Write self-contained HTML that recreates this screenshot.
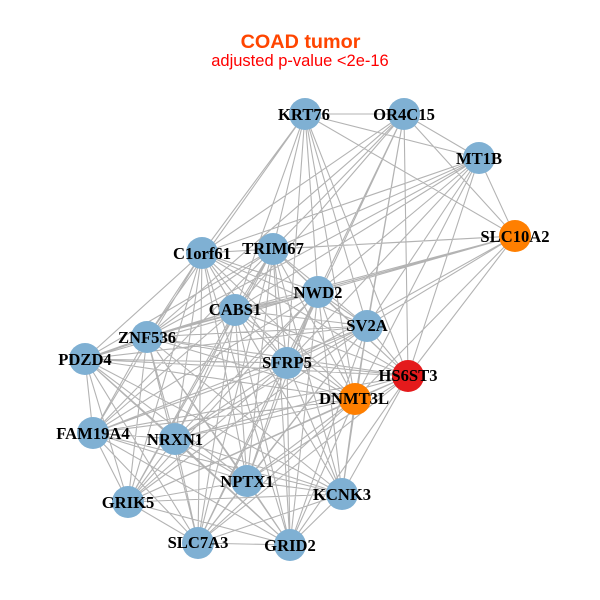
<!DOCTYPE html>
<html><head><meta charset="utf-8"><style>html,body{margin:0;padding:0;background:#fff}svg{display:block}
.n{font:bold 16.6px "Liberation Serif",serif;text-anchor:middle;fill:#000}</style></head><body>
<svg width="600" height="600" viewBox="0 0 600 600" xmlns="http://www.w3.org/2000/svg">
<rect width="600" height="600" fill="#fff"/>
<path fill="none" stroke="#b3b3b3" stroke-width="1.1" d="
M305 114L404 114M305 114L479 158M305 114L515 236M305 114L202 253M305 114L147 337M305 114L273 249M305 114L235 310M305 114L318 292M305 114L287 363M305 114L367 326M305 114L408 376M305 114L355 399
M404 114L479 158M404 114L515 236M404 114L202 253M404 114L273 249M404 114L235 310M404 114L318 292M404 114L287 363M404 114L367 326M404 114L408 376M404 114L147 337M404 114L355 399
M479 158L515 236M479 158L273 249M479 158L202 253M479 158L235 310M479 158L318 292M479 158L367 326M479 158L287 363M479 158L408 376M479 158L355 399M479 158L147 337
M515 236L273 249M515 236L202 253M515 236L318 292M515 236L235 310M515 236L367 326M515 236L287 363M515 236L408 376M515 236L355 399M515 236L147 337
M202 253L273 249M202 253L318 292M202 253L235 310M202 253L367 326M202 253L147 337M202 253L85 359M202 253L287 363M202 253L408 376M202 253L355 399M202 253L93 433M202 253L175 439M202 253L247 481M202 253L342 494M202 253L128 502M202 253L198 543M202 253L290 545
M273 249L318 292M273 249L235 310M273 249L367 326M273 249L147 337M273 249L85 359M273 249L287 363M273 249L408 376M273 249L355 399M273 249L93 433M273 249L175 439M273 249L247 481M273 249L342 494M273 249L128 502M273 249L198 543M273 249L290 545
M318 292L235 310M318 292L367 326M318 292L147 337M318 292L85 359M318 292L287 363M318 292L408 376M318 292L355 399M318 292L93 433M318 292L175 439M318 292L247 481M318 292L342 494M318 292L128 502M318 292L198 543M318 292L290 545
M235 310L367 326M235 310L147 337M235 310L85 359M235 310L287 363M235 310L408 376M235 310L355 399M235 310L93 433M235 310L175 439M235 310L247 481M235 310L342 494M235 310L128 502M235 310L198 543M235 310L290 545
M367 326L147 337M367 326L85 359M367 326L287 363M367 326L408 376M367 326L355 399M367 326L93 433M367 326L175 439M367 326L247 481M367 326L342 494M367 326L128 502M367 326L198 543M367 326L290 545
M147 337L85 359M147 337L287 363M147 337L408 376M147 337L355 399M147 337L93 433M147 337L175 439M147 337L247 481M147 337L342 494M147 337L128 502M147 337L198 543M147 337L290 545
M85 359L287 363M85 359L408 376M85 359L355 399M85 359L93 433M85 359L175 439M85 359L247 481M85 359L342 494M85 359L128 502M85 359L198 543M85 359L290 545
M287 363L408 376M287 363L355 399M287 363L93 433M287 363L175 439M287 363L247 481M287 363L342 494M287 363L128 502M287 363L198 543M287 363L290 545
M408 376L355 399M408 376L93 433M408 376L175 439M408 376L247 481M408 376L342 494M408 376L128 502M408 376L198 543M408 376L290 545
M355 399L93 433M355 399L175 439M355 399L247 481M355 399L342 494M355 399L128 502M355 399L198 543M355 399L290 545
M93 433L175 439M93 433L247 481M93 433L342 494M93 433L128 502M93 433L198 543M93 433L290 545
M175 439L247 481M175 439L342 494M175 439L128 502M175 439L198 543M175 439L290 545
M247 481L342 494M247 481L128 502M247 481L198 543M247 481L290 545
M342 494L128 502M342 494L198 543M342 494L290 545
M128 502L198 543M128 502L290 545
M198 543L290 545"/>
<g fill="#7fb0d3">
<circle cx="305" cy="114" r="16"/><circle cx="404" cy="114" r="16"/><circle cx="479" cy="158" r="16"/>
<circle cx="202" cy="253" r="16"/><circle cx="273" cy="249" r="16"/><circle cx="318" cy="292" r="16"/>
<circle cx="235" cy="310" r="16"/><circle cx="367" cy="326" r="16"/><circle cx="147" cy="337" r="16"/>
<circle cx="85" cy="359" r="16"/><circle cx="287" cy="363" r="16"/><circle cx="93" cy="433" r="16"/>
<circle cx="175" cy="439" r="16"/><circle cx="247" cy="481" r="16"/><circle cx="342" cy="494" r="16"/>
<circle cx="128" cy="502" r="16"/><circle cx="198" cy="543" r="16"/><circle cx="290" cy="545" r="16"/>
</g>
<circle cx="515" cy="236" r="16" fill="#ff7f00"/>
<circle cx="355" cy="399" r="16" fill="#ff7f00"/>
<circle cx="408" cy="376" r="16" fill="#e41a1c"/>
<text class="n" x="304" y="120">KRT76</text>
<text class="n" x="404" y="120">OR4C15</text>
<text class="n" x="479" y="164">MT1B</text>
<text class="n" x="515" y="242">SLC10A2</text>
<text class="n" x="202" y="259">C1orf61</text>
<text class="n" x="273" y="254">TRIM67</text>
<text class="n" x="318" y="298">NWD2</text>
<text class="n" x="235" y="315">CABS1</text>
<text class="n" x="367" y="331">SV2A</text>
<text class="n" x="147" y="343">ZNF536</text>
<text class="n" x="85" y="365">PDZD4</text>
<text class="n" x="287" y="368">SFRP5</text>
<text class="n" x="408" y="381">HS6ST3</text>
<text class="n" x="354" y="404">DNMT3L</text>
<text class="n" x="93" y="439">FAM19A4</text>
<text class="n" x="175" y="445">NRXN1</text>
<text class="n" x="247" y="487">NPTX1</text>
<text class="n" x="342" y="500">KCNK3</text>
<text class="n" x="128" y="508">GRIK5</text>
<text class="n" x="198" y="548">SLC7A3</text>
<text class="n" x="290" y="551">GRID2</text>
<text x="300.5" y="48" text-anchor="middle" font-family="Liberation Sans, sans-serif" font-weight="bold" font-size="19.8" fill="#ff4500">COAD tumor</text>
<text x="300" y="66" text-anchor="middle" font-family="Liberation Sans, sans-serif" font-size="16.5" fill="#ff0000">adjusted p-value &lt;2e-16</text>
</svg>
</body></html>
